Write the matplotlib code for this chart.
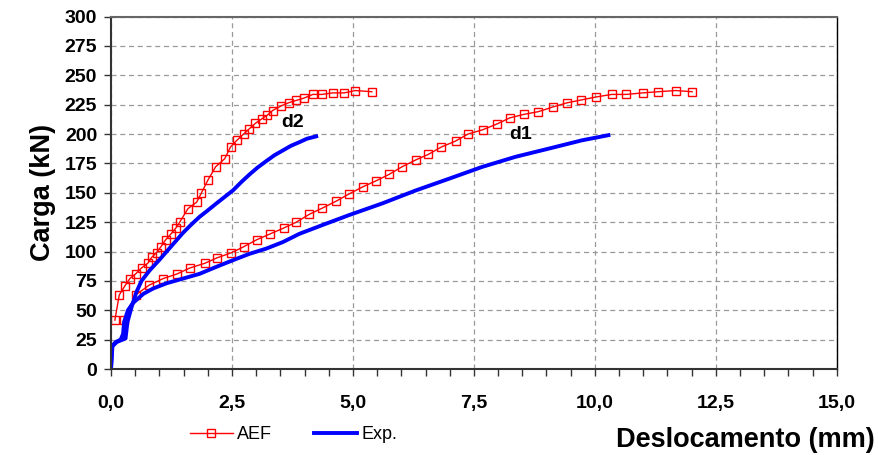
import matplotlib.pyplot as plt
from matplotlib.ticker import MultipleLocator, FuncFormatter

plt.rcParams['font.family'] = ['Liberation Sans', 'DejaVu Sans']

# AEF (modelo) - ponto d2
aef_d2_x = [0.08, 0.17, 0.29, 0.39, 0.51, 0.63, 0.76, 0.84, 0.94, 1.03, 1.13, 1.24, 1.34,
            1.42, 1.59, 1.77, 1.87, 2.00, 2.16, 2.35, 2.47, 2.60, 2.74, 2.86, 2.98, 3.12,
            3.23, 3.34, 3.52, 3.67, 3.83, 3.99, 4.17, 4.36, 4.58, 4.82, 5.05, 5.39]
aef_d2_y = [41.6, 63, 71, 77, 81, 86, 90, 95, 99, 104, 110, 115, 120,
            125, 136.5, 142, 150, 160.6, 172, 179, 189, 194.6, 200, 204.5, 209, 213,
            216, 220, 224, 226.6, 228.6, 230.6, 233.7, 233.7, 235, 235, 237, 236]

# AEF (modelo) - ponto d1
aef_d1_x = [0.27, 0.51, 0.79, 1.08, 1.37, 1.63, 1.94, 2.19, 2.49, 2.74, 3.01, 3.29, 3.57,
            3.83, 4.10, 4.37, 4.66, 4.92, 5.20, 5.47, 5.75, 6.01, 6.30, 6.56, 6.83, 7.12,
            7.38, 7.68, 7.98, 8.24, 8.53, 8.83, 9.13, 9.42, 9.72, 10.02, 10.35, 10.65,
            10.99, 11.31, 11.67, 12.01]
aef_d1_y = [41.6, 63, 71.4, 77, 81, 86, 90, 94.6, 99, 104, 110, 115, 120,
            125, 131.7, 137, 143, 149, 155, 160, 165.7, 172, 178, 182.7, 189, 194,
            200, 203.6, 208.6, 213.7, 216.7, 219, 223, 226.5, 229, 231.5, 233.7, 233.7,
            235, 236, 237, 236]

# Experimental - d2
exp_d2_x = [0.0, 0.02, 0.12, 0.30, 0.34, 0.42, 0.52, 0.63, 0.80, 0.98, 1.15, 1.32, 1.49,
            1.66, 1.83, 2.00, 2.18, 2.35, 2.52, 2.69, 2.86, 3.03, 3.21, 3.38, 3.55, 3.72,
            3.89, 4.05, 4.24]
exp_d2_y = [0, 19, 23, 26, 40, 52, 65, 75, 84, 92, 100, 108, 116,
            123, 129.5, 135, 141, 146.5, 152, 159, 165.5, 171.5, 177, 182, 186, 190,
            193, 196, 198]

# Experimental - d1
exp_d1_x = [0.0, 0.03, 0.10, 0.20, 0.25, 0.27, 0.35, 0.45, 0.53, 0.67, 0.87, 1.15, 1.49,
            1.83, 2.18, 2.52, 2.86, 3.21, 3.55, 3.89, 4.40, 4.92, 5.61, 6.30, 6.99, 7.67,
            8.36, 9.05, 9.73, 10.28]
exp_d1_y = [0, 20, 23, 25, 30, 40, 50, 56, 59, 64, 68.5, 73, 77,
            81, 87, 92.6, 98, 102.5, 108, 115, 123, 131, 141, 152, 162, 172,
            180.6, 187.6, 194.6, 199]

red = '#ff0000'
blue = '#0000ff'

fig = plt.figure(figsize=(8.79, 4.55), dpi=100)
ax = fig.add_axes([0.1263, 0.189, 0.8257, 0.7747])

mk = dict(color=red, lw=1.0, marker='s', ms=5.5, mfc='none', mec=red, mew=1.0)
l1, = ax.plot(aef_d2_x, aef_d2_y, **mk)
ax.plot(aef_d1_x, aef_d1_y, **mk)
l2, = ax.plot(exp_d2_x, exp_d2_y, color=blue, lw=2.8)
ax.plot(exp_d1_x, exp_d1_y, color=blue, lw=2.8)

ax.text(3.75, 210, 'd2', fontsize=14, fontweight='bold', ha='center', va='center')
ax.text(8.47, 200, 'd1', fontsize=14, fontweight='bold', ha='center', va='center')

ax.set_xlim(0, 15)
ax.set_ylim(0, 300)
ax.xaxis.set_major_locator(MultipleLocator(2.5))
ax.xaxis.set_minor_locator(MultipleLocator(0.5))
ax.yaxis.set_major_locator(MultipleLocator(25))
ax.xaxis.set_major_formatter(FuncFormatter(lambda v, p: ('%.1f' % v).replace('.', ',')))
ax.yaxis.set_major_formatter(FuncFormatter(lambda v, p: '%d' % v))

ax.grid(True, which='major', color='#999999', ls=(0, (4, 3)), lw=0.9)
ax.tick_params(which='both', direction='out', length=5, width=1, color='#333333')
ax.tick_params(axis='both', labelsize=14)
for lab in ax.get_xticklabels() + ax.get_yticklabels():
    lab.set_fontweight('bold')
ax.tick_params(axis='x', pad=14)
ax.tick_params(axis='y', pad=5)

for s in ['left', 'bottom']:
    ax.spines[s].set_color('#333333')
    ax.spines[s].set_linewidth(1.5)
ax.spines['right'].set_color('black')
ax.spines['right'].set_linewidth(1.0)
ax.spines['top'].set_color('#666666')
ax.spines['top'].set_linewidth(1.5)

ax.set_ylabel('Carga (kN)', fontsize=19.5, fontweight='bold', labelpad=6)
fig.text(0.995, 0.033, 'Deslocamento (mm)', fontsize=19.5, fontweight='bold',
         ha='right', va='center')

fig.legend([l1, l2], ['AEF', 'Exp.'], loc='center', bbox_to_anchor=(0.334, 0.044),
           ncol=2, frameon=False, fontsize=13, handlelength=2.4, columnspacing=2.3,
           handletextpad=0.25, markerscale=1.0)

fig.savefig('out.png', dpi=100)
